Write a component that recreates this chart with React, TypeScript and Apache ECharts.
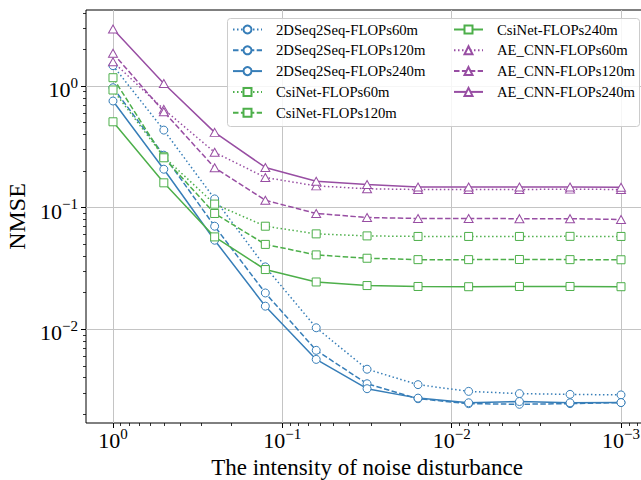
import React, { useEffect, useRef } from 'react';
import * as echarts from 'echarts';

const FONT = "Liberation Serif";

// x: intensity of noise disturbance (log-spaced from 1 to 1e-3)
const noiseIntensity = [1, 0.501, 0.251, 0.126, 0.0631, 0.0316, 0.0158, 0.00794, 0.00398, 0.002, 0.001];

const seq60 = [1.47, 0.434, 0.118, 0.0326, 0.0103, 0.0047, 0.00351, 0.00309, 0.00296, 0.00292, 0.00289];
const seq120 = [0.968, 0.27, 0.0704, 0.0199, 0.00672, 0.00357, 0.00269, 0.00245, 0.00242, 0.00245, 0.0025];
const seq240 = [0.753, 0.207, 0.054, 0.0155, 0.00566, 0.00325, 0.00272, 0.00249, 0.00255, 0.00249, 0.0025];
const csi60 = [0.927, 0.262, 0.107, 0.0704, 0.0609, 0.0586, 0.058, 0.058, 0.058, 0.0581, 0.058];
const csi120 = [1.17, 0.257, 0.0896, 0.0499, 0.0409, 0.0384, 0.0374, 0.0374, 0.0375, 0.0374, 0.0373];
const csi240 = [0.508, 0.16, 0.0575, 0.031, 0.0245, 0.0229, 0.0225, 0.0224, 0.0225, 0.0225, 0.0224];
const ae60 = [1.58, 0.643, 0.285, 0.177, 0.151, 0.143, 0.141, 0.141, 0.141, 0.142, 0.141];
const ae120 = [1.86, 0.615, 0.213, 0.115, 0.0896, 0.083, 0.0815, 0.0815, 0.0812, 0.0812, 0.080];
const ae240 = [2.94, 1.05, 0.416, 0.214, 0.165, 0.155, 0.148, 0.148, 0.148, 0.148, 0.147];

const names = [
  '2DSeq2Seq-FLOPs60m', '2DSeq2Seq-FLOPs120m', '2DSeq2Seq-FLOPs240m',
  'CsiNet-FLOPs60m', 'CsiNet-FLOPs120m', 'CsiNet-FLOPs240m',
  'AE_CNN-FLOPs60m', 'AE_CNN-FLOPs120m', 'AE_CNN-FLOPs240m',
];
const values = [seq60, seq120, seq240, csi60, csi120, csi240, ae60, ae120, ae240];
const colors = ['#377eb8', '#377eb8', '#377eb8', '#4daf4a', '#4daf4a', '#4daf4a', '#984ea3', '#984ea3', '#984ea3'];
const dashes: any[] = [[1.5, 2.5], [5.5, 2.4], 'solid', [1.5, 2.5], [5.5, 2.4], 'solid', [1.5, 2.5], [5.5, 2.4], 'solid'];
const symbols = ['circle', 'circle', 'circle', 'rect', 'rect', 'rect', 'triangle', 'triangle', 'triangle'];

// axis ticks (exponents of 10)
const xMajorTicks = [0, -1, -2, -3];
const yMajorTicks = [0, -1, -2];
const xRange = [-3.1594, 0.1594];
const yRange = [-2.770, 0.6248];

function minorTicks(lo: number, hi: number) {
  const out: number[] = [];
  for (let n = -5; n <= 1; n++) {
    for (let k = 2; k <= 9; k++) {
      const v = n + Math.log10(k);
      if (v > lo && v < hi) out.push(v);
    }
  }
  return out;
}

const fmt = (v: number) => `{b|10}{s|${Math.round(v) === 0 ? '0' : '\u2212' + Math.abs(Math.round(v))}}`;
const rich = {
  b: { fontSize: 22, fontFamily: FONT, color: '#000', lineHeight: 22, padding: [7, 0, 0, 0] },
  s: { fontSize: 15, fontFamily: FONT, color: '#000', lineHeight: 15, verticalAlign: 'top' },
};

export default function App() {
  const ref = useRef<HTMLDivElement>(null);
  useEffect(() => {
    if (!ref.current) return;
    const chart = echarts.init(ref.current, null, { renderer: 'svg' });
    const series = names.map((name, i) => ({
      name,
      type: 'line',
      xAxisIndex: 0,
      yAxisIndex: 0,
      data: noiseIntensity.map((x, j) => [Math.log10(x), Math.log10(values[i][j])]),
      symbol: symbols[i],
      symbolSize: symbols[i] === 'triangle' ? [9, 8] : 8,
      lineStyle: { color: colors[i], width: 1.5, type: dashes[i] },
      itemStyle: { color: '#fff', borderColor: colors[i], borderWidth: 1 },
      z: 2,
    }));
    const axisCommon = {
      type: 'value',
      axisLine: { show: false, onZero: false },
      splitLine: { show: false },
      axisLabel: { show: false },
    };
    const legendText = { fontSize: 14.7, fontFamily: FONT, color: '#000', lineHeight: 14, padding: [0, 0, 0, 9] };
    const option: any = {
      animation: false,
      backgroundColor: '#fff',
      textStyle: { fontFamily: FONT },
      grid: {
        left: 86, top: 10, width: 562, height: 413, show: true, borderColor: '#000', borderWidth: 1,
        backgroundColor: 'transparent', containLabel: false, outerBoundsMode: 'none',
      },
      xAxis: [
        {
          ...axisCommon,
          min: xRange[0], max: xRange[1], inverse: true, position: 'bottom',
          axisTick: { show: true, length: 5, customValues: xMajorTicks, lineStyle: { color: '#000', width: 1 } },
          axisLabel: { show: true, customValues: xMajorTicks, formatter: fmt, rich, margin: 3 },
          splitLine: { show: true, lineStyle: { color: '#c4c4c4', width: 1 } },
          name: 'The intensity of noise disturbance',
          nameLocation: 'middle', nameGap: 30,
          nameTextStyle: { fontSize: 23, fontFamily: FONT, color: '#000' },
        },
        {
          ...axisCommon,
          min: xRange[0], max: xRange[1], inverse: true, position: 'bottom',
          axisTick: { show: true, length: 3, customValues: minorTicks(xRange[0], xRange[1]), lineStyle: { color: '#000', width: 0.8 } },
        },
      ],
      yAxis: [
        {
          ...axisCommon,
          min: yRange[0], max: yRange[1], position: 'left',
          axisTick: { show: true, length: 5, customValues: yMajorTicks, lineStyle: { color: '#000', width: 1 } },
          axisLabel: { show: true, customValues: yMajorTicks, formatter: fmt, rich, margin: 8 },
          splitLine: { show: true, lineStyle: { color: '#c4c4c4', width: 1 } },
          name: 'NMSE', nameLocation: 'middle', nameGap: 50,
          nameTextStyle: { fontSize: 24, fontFamily: FONT, color: '#000' },
        },
        {
          ...axisCommon,
          min: yRange[0], max: yRange[1], position: 'left',
          axisTick: { show: true, length: 3, customValues: minorTicks(yRange[0], yRange[1]), lineStyle: { color: '#000', width: 0.8 } },
        },
      ],
      graphic: [
        {
          type: 'rect', z: 10,
          shape: { x: 227.5, y: 18.5, width: 412, height: 108, r: 3 },
          style: { fill: 'rgba(255,255,255,0.85)', stroke: '#cccccc', lineWidth: 1 },
        },
      ],
      legend: [
        {
          data: names.slice(0, 5), orient: 'vertical', left: 232, top: 22, padding: 0,
          itemWidth: 29, itemHeight: 10, itemGap: 5.8, z: 20,
          textStyle: legendText,
        },
        {
          data: names.slice(5), orient: 'vertical', left: 453, top: 22, padding: 0,
          itemWidth: 29, itemHeight: 10, itemGap: 5.8, z: 20,
          textStyle: legendText,
        },
      ],
      series,
    };
    chart.setOption(option);
    return () => chart.dispose();
  }, []);
  return <div ref={ref} style={{ position: 'fixed', left: 0, top: 0, width: 641, height: 480 }} />;
}
